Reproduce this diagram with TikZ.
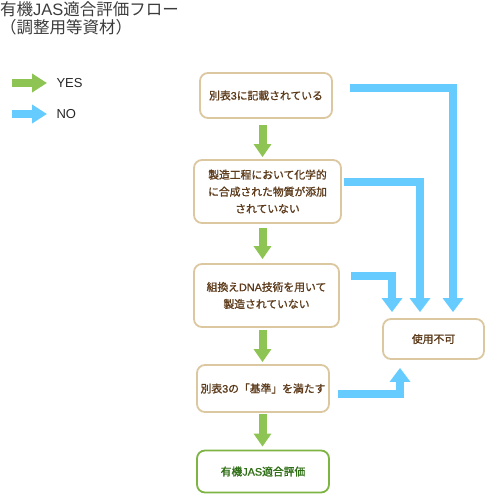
\documentclass[tikz,border=0pt]{standalone}
\usepackage{fontspec}
\setmainfont{Liberation Sans}
\newfontfamily\jp{Noto Sans CJK JP}
\newfontfamily\jpb[FakeBold=1.2]{Noto Sans CJK JP}
\newfontfamily\latb[FakeBold=1.2]{Liberation Sans}
\newfontfamily\lat{Liberation Sans}
\usetikzlibrary{arrows.meta}
\definecolor{yesgreen}{HTML}{8DC453}
\definecolor{noblue}{HTML}{66CCFF}
\definecolor{boxtan}{HTML}{DCC8A0}
\definecolor{boxtext}{HTML}{5C3A1A}
\definecolor{finalgreen}{HTML}{7DB443}
\definecolor{finaltext}{HTML}{2E6E14}
\definecolor{titlegray}{HTML}{3C3C3C}
\tikzset{
  stepbox/.style={draw=boxtan, line width=1.8pt, rounded corners=8pt, fill=white,
    align=center, text=boxtext, font=\jpb\fontsize{10.8pt}{17pt}\selectfont, inner sep=0pt},
  finalbox/.style={stepbox, draw=finalgreen, text=finaltext},
  yesarrow/.style={draw=yesgreen, line width=8pt, -{Triangle[width=17pt,length=13pt]}},
  noarrow/.style={draw=noblue, line width=8pt, line join=miter, -{Triangle[width=20pt,length=14pt]}},
  legendtext/.style={anchor=west, font=\fontsize{13pt}{15pt}\selectfont, text=black!85},
  titletext/.style={anchor=west, inner sep=0pt, text=titlegray, font=\jp\fontsize{16.5pt}{18pt}\selectfont},
}
\begin{document}
\begin{tikzpicture}[x=1pt,y=-1pt]
\useasboundingbox (0,0) rectangle (485,497);
% title
\node[titletext] (title1) at (0,9.5) {有機{\lat JAS}適合評価フロー};
\node[titletext] (title2) at (0,27.5) {（調整用等資材）};
% legend
\coordinate (ly1) at (12,83);
\coordinate (ly2) at (47,83);
\coordinate (ln1) at (12,114);
\coordinate (ln2) at (47,114);
\draw[yesarrow, -{Triangle[width=18pt,length=15pt]}] (ly1) -- (ly2);
\draw[noarrow, -{Triangle[width=18pt,length=15pt]}] (ln1) -- (ln2);
\node[legendtext] (yes) at (53,83) {YES};
\node[legendtext] (no) at (53,114) {NO};
% boxes
\node[stepbox, minimum width=132pt, minimum height=45pt] (b1) at (266,95.5) {別表{\latb 3}に記載されている};
\node[stepbox, minimum width=147pt, minimum height=63pt] (b2) at (267.5,191.5) {製造工程において化学的\\に合成された物質が添加\\されていない};
\node[stepbox, minimum width=145pt, minimum height=63pt] (b3) at (266.5,295.5) {組換え{\latb DNA}技術を用いて\\製造されていない};
\node[stepbox, minimum width=132pt, minimum height=47pt] (b4) at (263,388.5) {別表{\latb 3}の「基準」を満たす};
\node[finalbox, minimum width=132pt, minimum height=42pt] (b5) at (263,471.5) {有機{\latb JAS}適合評価};
\node[stepbox, minimum width=101pt, minimum height=40pt] (ng) at (433.5,339) {使用不可};
% green arrows
\coordinate (gx) at (262.5,0);
\draw[yesarrow] ([yshift=-6pt]b1.south -| gx) -- ([yshift=2pt]b2.north -| gx);
\draw[yesarrow] ([yshift=-4pt]b2.south -| gx) -- ([yshift=4pt]b3.north -| gx);
\draw[yesarrow] ([yshift=-2pt]b3.south -| gx) -- ([yshift=2pt]b4.north -| gx);
\draw[yesarrow] ([yshift=-1pt]b4.south -| gx) -- ([yshift=3pt]b5.north -| gx);
% blue arrows
\draw[noarrow] ([xshift=17pt,yshift=7.5pt]b1.east) -| ([xshift=19.5pt,yshift=6pt]ng.north);
\draw[noarrow] ([xshift=2pt,yshift=9.5pt]b2.east) -| ([xshift=-13.5pt,yshift=6pt]ng.north);
\draw[noarrow] ([xshift=11pt,yshift=20pt]b3.east) -| ([xshift=-41.5pt,yshift=6pt]ng.north);
\draw[noarrow] ([xshift=8pt,yshift=-5pt]b4.east) -| ([xshift=-33.5pt,yshift=-8pt]ng.south);
\end{tikzpicture}
\end{document}
